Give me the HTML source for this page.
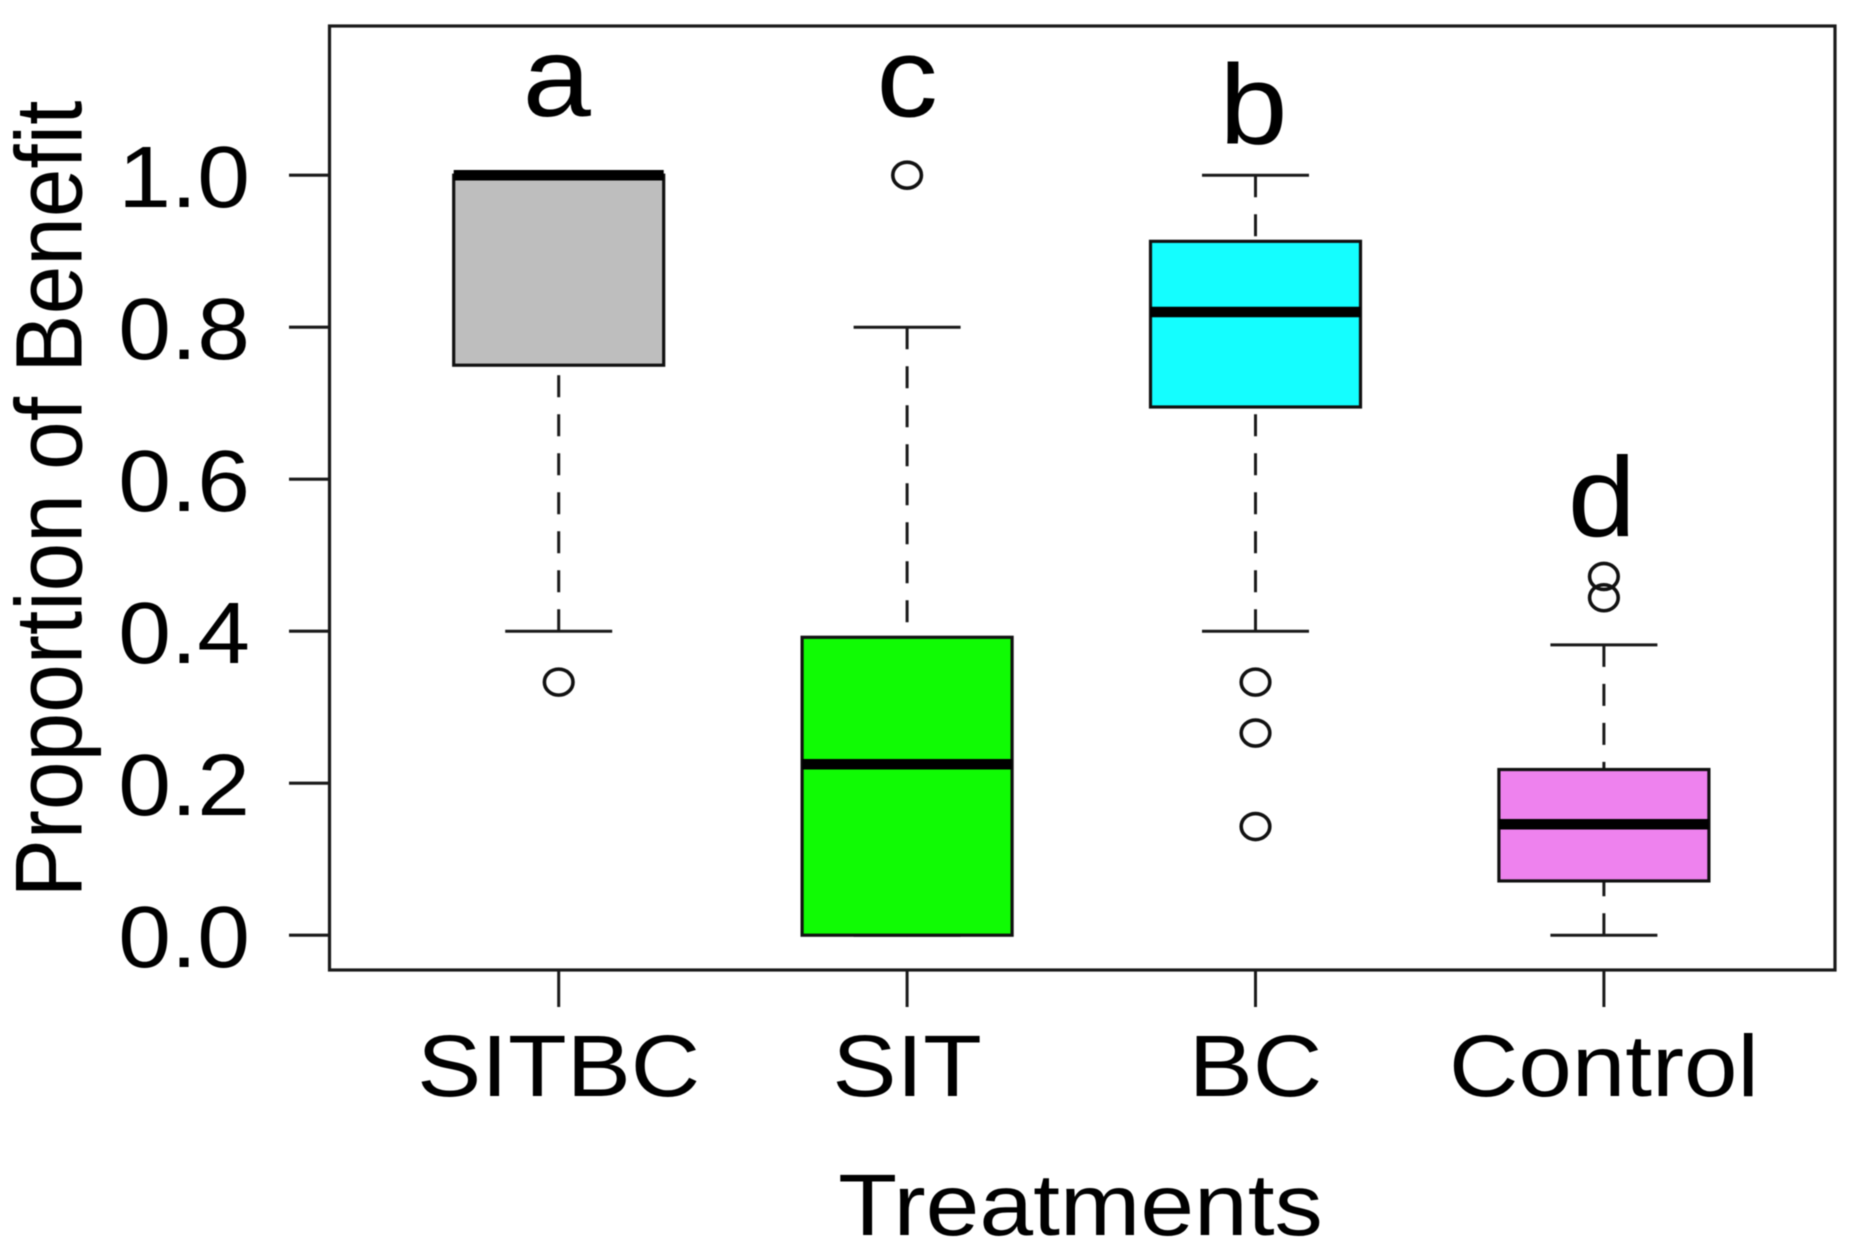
<!DOCTYPE html>
<html>
<head>
<meta charset="utf-8">
<title>Proportion of Benefit by Treatment</title>
<style>
html,body{margin:0;padding:0;background:#fff;width:1853px;height:1253px;overflow:hidden}
svg{display:block;filter:blur(0.6px)}
text{font-family:"Liberation Sans",Arial,sans-serif;fill:#000}
</style>
</head>
<body>
<svg id="chart" xmlns="http://www.w3.org/2000/svg" width="1853" height="1253" viewBox="0 0 1853 1253">
<rect x="0" y="0" width="1853" height="1253" fill="#fff"/>
<rect x="329.5" y="26" width="1505.5" height="944" fill="none" stroke="#1a1a1a" stroke-width="3.2"/>
<text transform="scale(1.085 1) translate(75.2 499) rotate(-90)" font-size="87.4" text-anchor="middle">Proportion of Benefit</text>
<text transform="scale(1.11 1) translate(973.4 1235)" font-size="87" text-anchor="middle">Treatments</text>
</svg>
<script>
const categories = ['SITBC', 'SIT', 'BC', 'Control'];
const q1Values = [0.75, 0, 0.695, 0.0714];
const medianValues = [1, 0.225, 0.82, 0.146];
const q3Values = [1, 0.392, 0.913, 0.218];
const whiskerLowValues = [0.4, 0, 0.4, 0];
const whiskerHighValues = [1, 0.8, 1, 0.382];
const outlierValues = [[0.333], [1], [0.333, 0.266, 0.143], [0.444, 0.472]];
const boxColors = ['#bebebe', '#10fb04', '#14feff', '#ee82ee'];
const significanceLetters = ['a', 'c', 'b', 'd'];
const letterValues = [1.078, 1.077, 1.042, 0.525];
const yTickValues = [0, 0.2, 0.4, 0.6, 0.8, 1];
const yTickLabels = ['0.0', '0.2', '0.4', '0.6', '0.8', '1.0'];

const svg = document.getElementById('chart');
const NS = 'http://www.w3.org/2000/svg';
const xScale = function (i) { return 558.7 + i * 348.4; };
const yScale = function (v) { return 935.2 - v * 760; };

function add(tag, attrs, parent) {
  const el = document.createElementNS(NS, tag);
  for (const k in attrs) { el.setAttribute(k, attrs[k]); }
  (parent || svg).appendChild(el);
  return el;
}
function addText(str, x, y, size, anchor, stretch) {
  const el = add('text', {
    transform: 'scale(' + stretch + ' 1) translate(' + (x / stretch) + ' ' + y + ')',
    'font-size': size,
    'text-anchor': anchor
  });
  el.textContent = str;
  return el;
}

yTickValues.forEach(function (v, i) {
  const y = yScale(v);
  const tick = add('line', { x1: 289, x2: 329, y1: y, y2: y, stroke: '#1a1a1a', 'stroke-width': 3.2 });
  
  
  const label = addText(yTickLabels[i], 250, y + 32, 87, 'end', 1.09);
  
  
});

categories.forEach(function (cat, i) {
  const x = xScale(i);
  const key = cat.toLowerCase();
  const boxHalf = 105;
  const capHalf = 53.5;

  const tick = add('line', { x1: x, x2: x, y1: 970, y2: 1007, stroke: '#1a1a1a', 'stroke-width': 3 });
  
  

  const label = addText(cat, x, 1096, 87, 'middle', 1.105);
  
  

  const upper = add('line', { x1: x, x2: x, y1: yScale(whiskerHighValues[i]), y2: yScale(q3Values[i]), stroke: '#1a1a1a', 'stroke-width': 3, 'stroke-dasharray': '22 17' });
  
  

  const lower = add('line', { x1: x, x2: x, y1: yScale(whiskerLowValues[i]), y2: yScale(q1Values[i]), stroke: '#1a1a1a', 'stroke-width': 3, 'stroke-dasharray': '22 17' });
  
  

  const capHigh = add('line', { x1: x - capHalf, x2: x + capHalf, y1: yScale(whiskerHighValues[i]), y2: yScale(whiskerHighValues[i]), stroke: '#1a1a1a', 'stroke-width': 3 });
  
  

  const capLow = add('line', { x1: x - capHalf, x2: x + capHalf, y1: yScale(whiskerLowValues[i]), y2: yScale(whiskerLowValues[i]), stroke: '#1a1a1a', 'stroke-width': 3 });
  
  

  const box = add('rect', { x: x - boxHalf, y: yScale(q3Values[i]), width: boxHalf * 2, height: yScale(q1Values[i]) - yScale(q3Values[i]), fill: boxColors[i], stroke: '#111', 'stroke-width': 3.2 });
  
  

  const median = add('line', { x1: x - boxHalf, x2: x + boxHalf, y1: yScale(medianValues[i]), y2: yScale(medianValues[i]), stroke: '#000', 'stroke-width': 10.5 });
  
  

  outlierValues[i].forEach(function (v) {
    const pt = add('ellipse', { cx: x, cy: yScale(v), rx: 14.3, ry: 13, fill: 'none', stroke: '#111', 'stroke-width': 3.6 });
    
    
  });

  const letter = addText(significanceLetters[i], x - (i === 1 ? 0 : 2), yScale(letterValues[i]), 113, 'middle', 1.085);
  
  
});
</script>
</body>
</html>
